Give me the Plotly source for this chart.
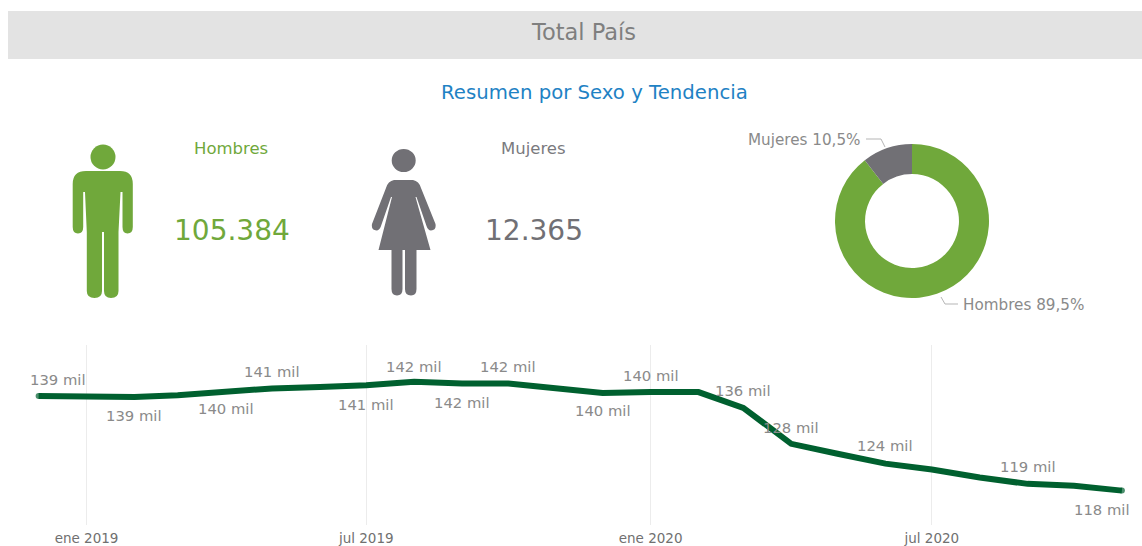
import plotly.graph_objects as go

W, H = 1142, 546

# ---- data ----
months = ["2018-12-01", "2019-01-01", "2019-02-01", "2019-03-01", "2019-04-01", "2019-05-01",
          "2019-06-01", "2019-07-01", "2019-08-01", "2019-09-01", "2019-10-01", "2019-11-01",
          "2019-12-01", "2020-01-01", "2020-02-01", "2020-03-01", "2020-04-01", "2020-05-01",
          "2020-06-01", "2020-07-01", "2020-08-01", "2020-09-01", "2020-10-01", "2020-11-01"]
total_mil = [139.2, 139.0, 139.0, 139.4, 140.2, 140.9, 141.2, 141.6, 142.4, 142.0, 142.0, 140.9,
             139.9, 140.1, 140.1, 136.6, 128.6, 126.4, 124.2, 122.9, 121.1, 119.7, 119.3, 118.2]
tick_vals = ["2019-01-01", "2019-07-01", "2020-01-01", "2020-07-01"]
tick_text = ["ene 2019", "jul 2019", "ene 2020", "jul 2020"]
labelled_idx = [0, 2, 4, 5, 7, 8, 9, 10, 12, 13, 15, 16, 18, 21, 23]
label_text = ["139 mil", "139 mil", "140 mil", "141 mil", "141 mil", "142 mil", "142 mil", "142 mil",
              "140 mil", "140 mil", "136 mil", "128 mil", "124 mil", "119 mil", "118 mil"]
label_dx = [19, 0, 0, 0, 0, 0, 0, 0, 0, 0, 0, 0, 0, 0, -20]
label_dy = [17, -18, -17, 17, -19, 15, -19, 17, -18, 17, 17, 16, 18, 17, -19]
sexes = ["Hombres", "Mujeres"]
sex_counts = [105384, 12365]
sex_share_text = ["Hombres 89,5%", "Mujeres 10,5%"]
sex_count_text = ["105.384", "12.365"]

GREEN, GREY, DARK = "#70a83b", "#717075", "#00602f"
TXT = "#8a8a8a"
FONT = "DejaVu Sans"


def X(p):
    return p / W


def Y(p):
    return 1 - p / H


def path(cmds):
    """Page-pixel path commands converted to paper fractions."""
    out = []
    for c in cmds:
        nums = c[1:]
        conv = [X(v) if i % 2 == 0 else Y(v) for i, v in enumerate(nums)]
        out.append(c[0] + " " + " ".join(f"{v:.5f}" for v in conv))
    return " ".join(out) + " Z"


def paper_shape(d, color):
    return dict(type="path", xref="paper", yref="paper", path=d, fillcolor=color,
                line=dict(width=0), layer="above")


male = path([
    ("M", 72.7, 184), ("Q", 72.7, 171, 86, 171), ("L", 120, 171), ("Q", 132.8, 171, 132.8, 184),
    ("L", 132.8, 227), ("Q", 132.8, 233.5, 127.5, 233.5), ("Q", 122.5, 233.5, 122.5, 227),
    ("L", 122.5, 192), ("L", 120.5, 192), ("L", 118.5, 232), ("L", 118.5, 291),
    ("Q", 118.5, 298, 111, 298), ("Q", 104, 298, 104, 291), ("L", 104, 232), ("L", 102, 232),
    ("L", 102, 291), ("Q", 102, 298, 94.5, 298), ("Q", 86.8, 298, 86.8, 291), ("L", 86.8, 232),
    ("L", 85, 192), ("L", 83.2, 192), ("L", 83.2, 227), ("Q", 83.2, 233.5, 78, 233.5),
    ("Q", 72.7, 233.5, 72.7, 227),
])
female = path([
    ("M", 394, 180), ("L", 413, 180), ("Q", 419, 181, 421, 188), ("L", 435.5, 224),
    ("Q", 436.5, 230, 431, 230.5), ("Q", 428, 230.5, 426.5, 226), ("L", 416.5, 197),
    ("L", 415.5, 197), ("L", 430.5, 250), ("L", 416.5, 250), ("L", 416.5, 289),
    ("Q", 416.5, 295.5, 411, 295.5), ("Q", 405, 295.5, 405, 289), ("L", 405, 250), ("L", 402.5, 250),
    ("L", 402.5, 289), ("Q", 402.5, 295.5, 397, 295.5), ("Q", 391.5, 295.5, 391.5, 289),
    ("L", 391.5, 250), ("L", 378.5, 250), ("L", 392, 197), ("L", 391, 197), ("L", 381, 226),
    ("Q", 379.5, 230.5, 376.5, 230.5), ("Q", 371, 230, 372, 224), ("L", 386, 188), ("Q", 388, 181, 394, 180),
])

shapes = [
    dict(type="rect", xref="paper", yref="paper", x0=X(8), x1=X(1142), y0=Y(59), y1=Y(11),
         fillcolor="#e3e3e3", line=dict(width=0), layer="below"),
    paper_shape(male, GREEN),
    paper_shape(female, GREY),
    dict(type="circle", xref="paper", yref="paper", x0=X(90.5), x1=X(115.5), y0=Y(169.5), y1=Y(144.5),
         fillcolor=GREEN, line=dict(width=0)),
    dict(type="circle", xref="paper", yref="paper", x0=X(391.7), x1=X(415.7), y0=Y(172), y1=Y(149),
         fillcolor=GREY, line=dict(width=0)),
    dict(type="path", xref="paper", yref="paper", line=dict(color="#b5b5b5", width=1),
         path=f"M {X(866)} {Y(139)} L {X(881)} {Y(139)} L {X(885)} {Y(147)}"),
    dict(type="path", xref="paper", yref="paper", line=dict(color="#b5b5b5", width=1),
         path=f"M {X(958)} {Y(304)} L {X(945)} {Y(304)} L {X(941)} {Y(297)}"),
]


def text(x, y, s, size, color):
    return dict(xref="paper", yref="paper", x=X(x), y=Y(y), text=s, showarrow=False, xanchor="center",
                yanchor="middle", font=dict(family=FONT, size=size, color=color))


annotations = [
    text(583, 32, "Total País", 22.5, "#7f7f7f"),
    text(594, 92, "Resumen por Sexo y Tendencia", 19.7, "#1f82c4"),
    text(231, 149, sexes[0], 16.5, GREEN),
    text(533, 149, sexes[1], 16.5, "#7a7a7e"),
    text(231.5, 230, sex_count_text[0], 28, GREEN),
    text(533.5, 230, sex_count_text[1], 28, GREY),
    text(804, 140, sex_share_text[1], 15.2, TXT),
    text(1023, 305, sex_share_text[0], 15.2, TXT),
]
for i, s, dx, dy in zip(labelled_idx, label_text, label_dx, label_dy):
    annotations.append(dict(x=months[i], y=total_mil[i], xref="x", yref="y", text=s, showarrow=False,
                            xshift=dx, yshift=dy, xanchor="center", yanchor="middle",
                            font=dict(family=FONT, size=14.8, color=TXT)))

# round line ends: a dot on the first and last month only
end_sizes = [6 if i in (0, len(months) - 1) else 0 for i in range(len(months))]

fig = go.Figure()
fig.add_trace(go.Scatter(x=months, y=total_mil, mode="lines+markers", cliponaxis=False,
                         line=dict(color=DARK, width=6),
                         marker=dict(color=DARK, size=end_sizes, line=dict(width=0)),
                         hoverinfo="skip", showlegend=False))
fig.add_trace(go.Pie(labels=sexes, values=sex_counts, hole=0.61, sort=False, direction="clockwise",
                     rotation=0, textinfo="none", showlegend=False, hoverinfo="skip",
                     marker=dict(colors=[GREEN, GREY], line=dict(width=0)),
                     domain=dict(x=[X(835), X(989)], y=[Y(298), Y(144)])))

fig.update_layout(
    width=W, height=H, margin=dict(l=0, r=0, t=0, b=0, autoexpand=False),
    paper_bgcolor="white", plot_bgcolor="white",
    showlegend=False, shapes=shapes, annotations=annotations,
    xaxis=dict(type="date", range=["2018-11-06", "2020-11-14"], tickvals=tick_vals, ticktext=tick_text,
               showgrid=True, gridcolor="#ececec", gridwidth=1, zeroline=False, showline=False,
               ticks="", tickangle=0, automargin=False,
               tickfont=dict(family=FONT, size=13.5, color="#707070"), ticklabelstandoff=3),
    yaxis=dict(domain=[Y(525), Y(345)], range=[110.56, 150.56], visible=False, automargin=False),
)

fig.write_html("out.html", config=dict(displayModeBar=False),
               post_script="document.body.style.margin='0';document.body.style.overflow='hidden';")
